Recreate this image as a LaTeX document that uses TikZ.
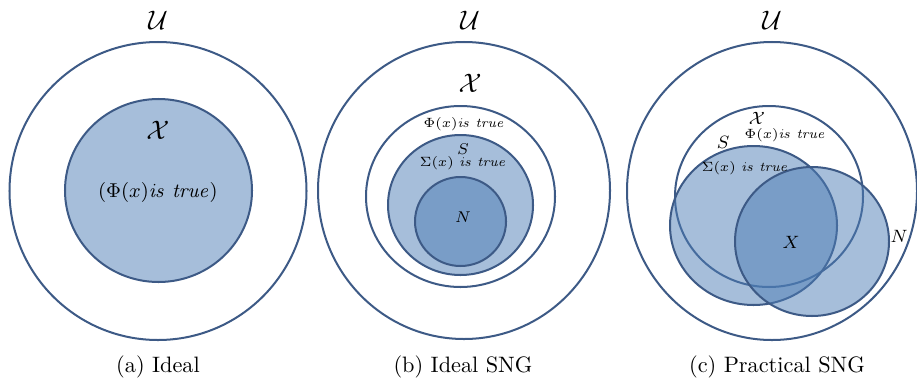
\documentclass[tikz,border=0pt]{standalone}
\usepackage{xcolor}
\usepackage{tikz}
\usetikzlibrary{positioning}

\definecolor{setline}{RGB}{61,90,134}
\definecolor{setfill}{RGB}{77,125,181}

\begin{document}
\begin{tikzpicture}[
  x=0.4484pt, y=0.4484pt,
  set/.style={draw=setline, line width=0.9pt},
  shaded/.style={set, fill=setfill, fill opacity=0.5},
  biglbl/.style={font=\large, inner sep=0pt},
  midlbl/.style={font=\small, inner sep=0pt},
  smalllbl/.style={font=\scriptsize, inner sep=0pt},
  setlbl/.style={font=\footnotesize, inner sep=0pt},
  tinylbl/.style={font=\fontsize{6}{7}\selectfont, inner sep=0pt},
  caption/.style={font=\normalsize, inner sep=0pt},
]
  \useasboundingbox (0,0) rectangle (917,382);

  % (a) ideal
  \draw[set] (158,191) ellipse [x radius=148.5, y radius=149];
  \draw[shaded] (158.5,191.5) ellipse [x radius=93.5, y radius=91.5];
  \node[biglbl] (uA) at (158,362) {$\mathcal{U}$};
  \node[biglbl] (xA) at (158,252) {$\mathcal{X}$};
  \node[midlbl] (phiA) at (158,190) {$(\Phi(x)\mathit{is\ true})$};
  \node[caption] (capA) at (158,15) {(a) Ideal};

  % (b) ideal SNG
  \draw[set] (464,191.5) ellipse [x radius=146, y radius=148.5];
  \draw[set] (460.5,185.5) ellipse [x radius=94.5, y radius=90.5];
  \draw[shaded] (460.5,177) ellipse [x radius=72.5, y radius=70];
  \draw[shaded] (460.5,160.5) ellipse [x radius=45.5, y radius=44.5];
  \node[biglbl] (uB) at (470,362) {$\mathcal{U}$};
  \node[biglbl] (xB) at (470,299) {$\mathcal{X}$};
  \node[tinylbl] (phiB) at (464,258) {$\Phi(x)\mathit{is\ true}$};
  \node[smalllbl] (sB) at (463,233) {$S$};
  \node[tinylbl] (sigB) at (463,219) {$\Sigma(x)\ \mathit{is\ true}$};
  \node[smalllbl] (nB) at (463,165) {$N$};
  \node[caption] (capB) at (463,15) {(b) Ideal SNG};

  % (c) practical SNG
  \draw[set] (772,191) ellipse [x radius=145, y radius=149];
  \draw[set] (769,185.5) ellipse [x radius=94, y radius=90.5];
  \draw[shaded] (753.5,156.5) ellipse [x radius=83.5, y radius=79.5];
  \draw[shaded] (812,140.5) ellipse [x radius=77, y radius=74.5];
  \node[biglbl] (uC) at (772,362) {$\mathcal{U}$};
  \node[setlbl] (xC) at (757,264) {$\mathcal{X}$};
  \node[tinylbl] (phiC) at (785,247) {$\Phi(x)\mathit{is\ true}$};
  \node[setlbl] (sC) at (723,240) {$S$};
  \node[tinylbl] (sigC) at (745,214) {$\Sigma(x)\ \mathit{is\ true}$};
  \node[setlbl] (nC) at (899,146) {$N$};
  \node[setlbl] (xxC) at (791,140) {$X$};
  \node[caption] (capC) at (777,15) {(c) Practical SNG};
\end{tikzpicture}
\end{document}
